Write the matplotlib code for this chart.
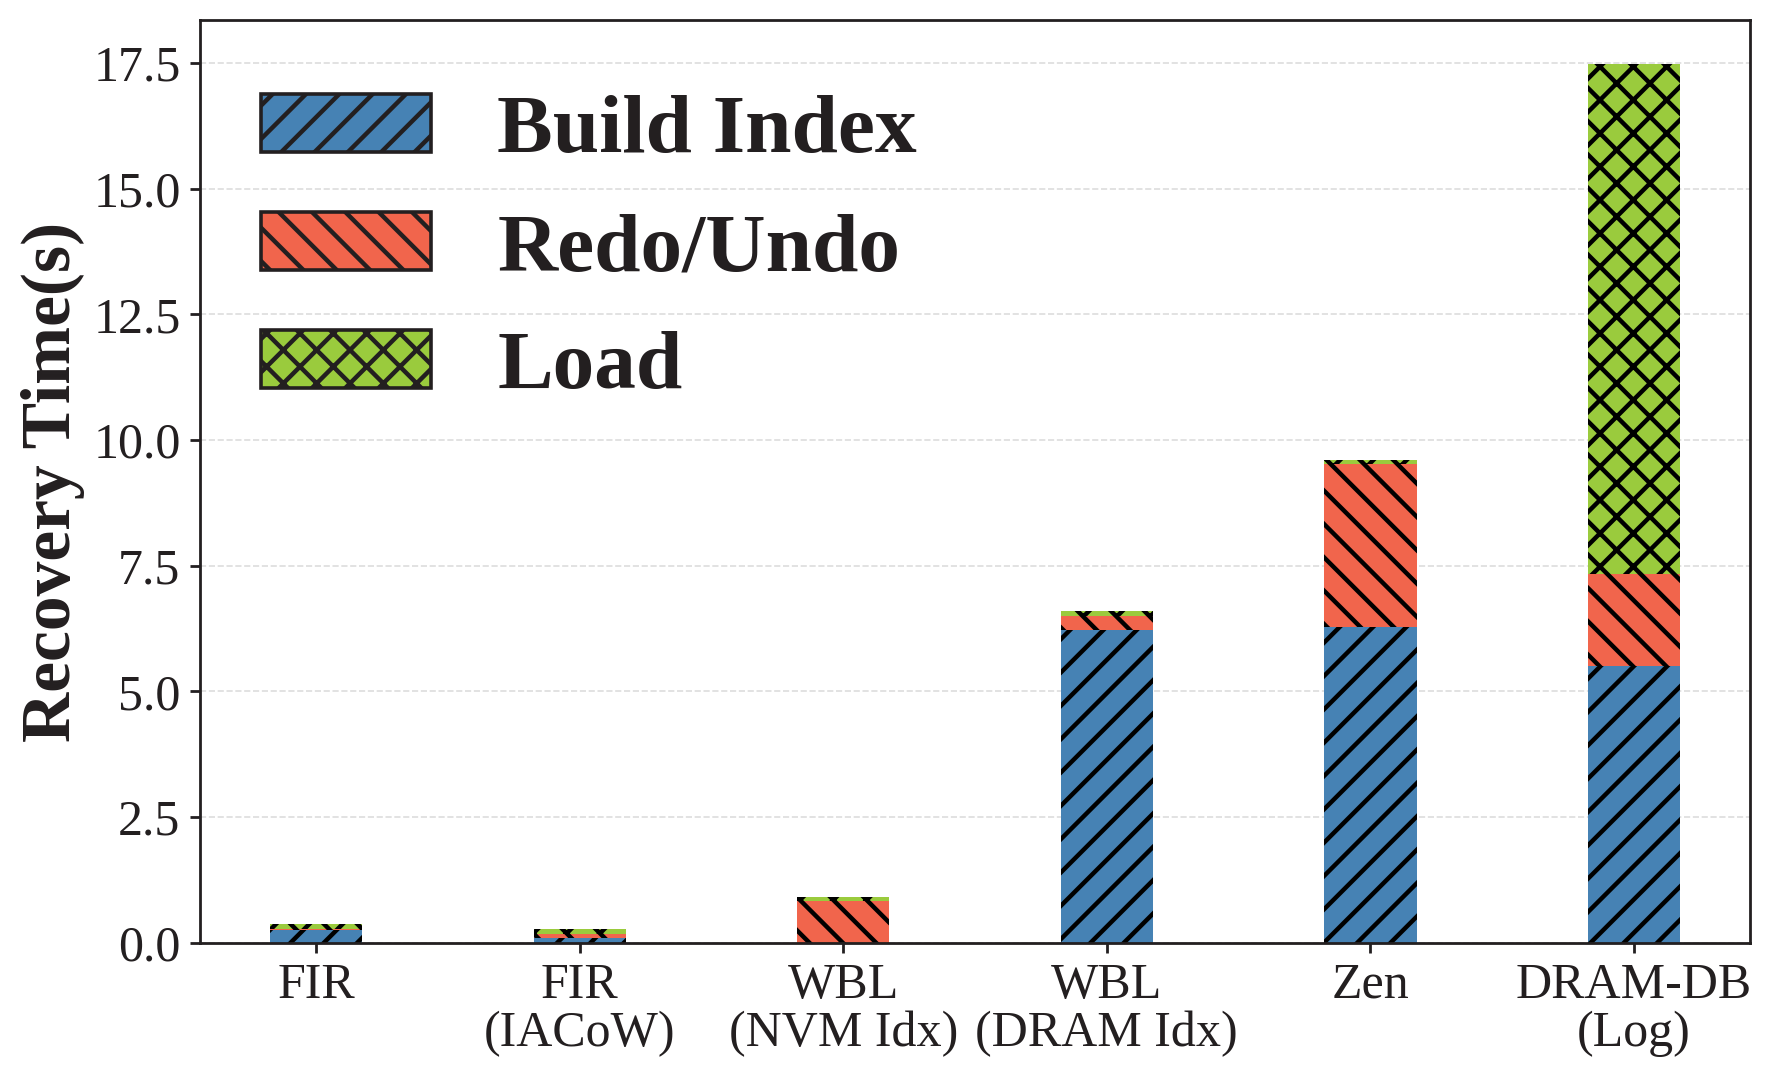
import matplotlib
matplotlib.use('Agg')
import matplotlib.pyplot as plt
from matplotlib.patches import Patch
import numpy as np

plt.rcParams['font.family'] = ['Liberation Serif', 'DejaVu Serif']
plt.rcParams['hatch.linewidth'] = 1.6

# systems on the x axis
systems = ['FIR', 'FIR\n(IACoW)', 'WBL\n(NVM Idx)', 'WBL\n(DRAM Idx)', 'Zen', 'DRAM-DB\n(Log)']

# recovery time breakdown (s)
build_index = [0.25, 0.10, 0.00, 6.23, 6.28, 5.51]
redo_undo = [0.03, 0.08, 0.83, 0.28, 3.25, 1.83]
load = [0.10, 0.10, 0.08, 0.10, 0.08, 10.13]

labels = ['Build Index', 'Redo/Undo', 'Load']
colors = ['#4682B4', '#F1654C', '#9ACB3D']
hatches = ['//', '\\\\', 'xx']

ink = '#231F20'

fig = plt.figure(figsize=(8.86, 5.41), dpi=200)
ax = fig.add_axes([0.1129, 0.1285, 0.8747, 0.853])

x = np.arange(len(systems))
width = 0.35
bottom = np.zeros(len(systems))
for vals, c, h in zip([build_index, redo_undo, load], colors, hatches):
    ax.bar(x, vals, width, bottom=bottom, color=c, hatch=h,
           edgecolor='black', linewidth=0, zorder=2)
    bottom = bottom + np.array(vals)

ax.set_xlim(-0.44, 5.44)
ax.set_ylim(0, 18.35)
ax.set_xticks(x)
ax.set_xticklabels(systems, fontsize=18, color=ink, linespacing=1.05)
ax.set_yticks(np.arange(0, 17.6, 2.5))
ax.set_yticklabels(['%.1f' % v for v in np.arange(0, 17.6, 2.5)], fontsize=18, color=ink)
ax.tick_params(axis='both', length=3.5, width=1, color=ink, pad=3.5)
ax.set_ylabel('Recovery Time(s)', fontsize=25, fontweight='bold', color=ink, labelpad=3)

ax.yaxis.grid(True, linestyle='--', color='#DDDDDD', linewidth=0.6, zorder=0)
ax.set_axisbelow(True)
for s in ax.spines.values():
    s.set_color(ink)
    s.set_linewidth(1.0)

handles = [Patch(facecolor=c, hatch=h, edgecolor=ink, linewidth=1.3)
           for c, h in zip(colors, hatches)]
leg = ax.legend(handles, labels, loc='upper left', bbox_to_anchor=(0.039, 0.92),
                frameon=False, borderaxespad=0, borderpad=0,
                handlelength=2.05, handleheight=0.7, handletextpad=0.79,
                labelspacing=0.5, prop={'family': 'Liberation Serif', 'weight': 'bold', 'size': 30})
for t in leg.get_texts():
    t.set_color(ink)

fig.savefig('out.png', dpi=200)
